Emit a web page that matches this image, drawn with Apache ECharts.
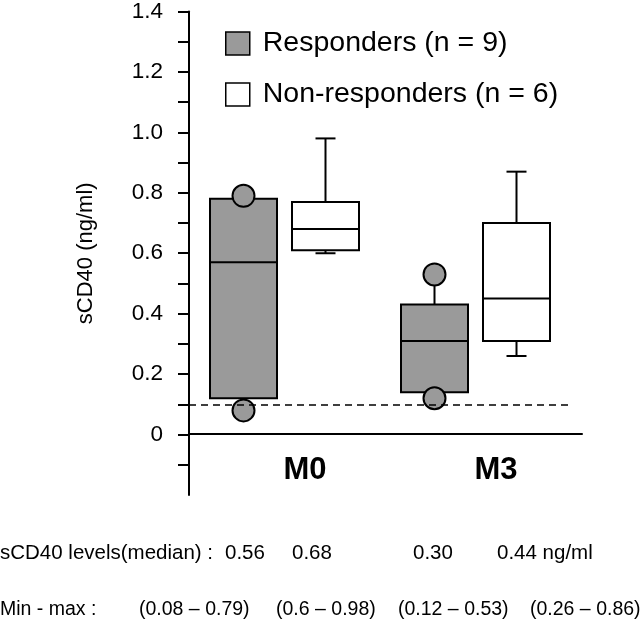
<!DOCTYPE html>
<html>
<head>
<meta charset="utf-8">
<script src="https://cdn.jsdelivr.net/npm/echarts@6/dist/echarts.min.js"></script>
<style>html,body{margin:0;padding:0;background:#fff;}#chart{width:640px;height:622px;}</style>
</head>
<body>
<div id="chart"></div>
<script>
// ---- data ----
var categories = ['M0', 'M3'];
var seriesNames = ['Responders (n = 9)', 'Non-responders (n = 6)'];
var respMin = [0.08, 0.12];
var respQ1 = [0.12, 0.14];
var respMedian = [0.57, 0.31];
var respQ3 = [0.78, 0.43];
var respMax = [0.79, 0.53];
var nonMin = [0.60, 0.26];
var nonQ1 = [0.61, 0.31];
var nonMedian = [0.68, 0.45];
var nonQ3 = [0.77, 0.70];
var nonMax = [0.98, 0.87];
var yLabelValues = [0, 0.2, 0.4, 0.6, 0.8, 1.0, 1.2, 1.4];
var yTickValues = [-0.1, 0, 0.1, 0.2, 0.3, 0.4, 0.5, 0.6, 0.7, 0.8, 0.9, 1.0, 1.1, 1.2, 1.3, 1.4];
var cutoff = 0.1;
var tableRowLabels = ['sCD40 levels(median) :', 'Min - max :'];
var medianTexts = ['0.56', '0.68', '0.30', '0.44 ng/ml'];
var minMaxTexts = ['(0.08 \u2013 0.79)', '(0.6 \u2013 0.98)', '(0.12 \u2013 0.53)', '(0.26 \u2013 0.86)'];

// ---- build ----
var FONT = '"Liberation Sans", Arial, Helvetica, sans-serif';
var GREY = '#9a9a9a';
var BOX_W = 67, CAP_HALF = 10, CIRCLE_R = 11;

function buildData(mn, q1, md, q3, mx) {
  return categories.map(function (c, i) { return [i, mn[i], q1[i], md[i], q3[i], mx[i]]; });
}

function makeRender(offsetFrac, withCircles) {
  return function (params, api) {
    var idx = api.value(0);
    var base = api.coord([idx, 0]);
    var band = api.size([1, 0])[0];
    var cx = base[0] + band * offsetFrac;
    var yMin = api.coord([idx, api.value(1)])[1];
    var yQ1 = api.coord([idx, api.value(2)])[1];
    var yMed = api.coord([idx, api.value(3)])[1];
    var yQ3 = api.coord([idx, api.value(4)])[1];
    var yMax = api.coord([idx, api.value(5)])[1];
    var fill = api.visual('color');
    var line = { stroke: '#000', lineWidth: 2 };
    var children = [
      { type: 'line', shape: { x1: cx, y1: yQ3, x2: cx, y2: yMax }, style: line },
      { type: 'line', shape: { x1: cx, y1: yQ1, x2: cx, y2: yMin }, style: line },
      { type: 'rect', shape: { x: cx - BOX_W / 2, y: yQ3, width: BOX_W, height: yQ1 - yQ3 },
        style: { fill: fill, stroke: '#000', lineWidth: 2 } },
      { type: 'line', shape: { x1: cx - BOX_W / 2, y1: yMed, x2: cx + BOX_W / 2, y2: yMed }, style: line }
    ];
    if (withCircles) {
      children.push({ type: 'circle', shape: { cx: cx, cy: yMax, r: CIRCLE_R }, style: { fill: fill, stroke: '#000', lineWidth: 2 } });
      children.push({ type: 'circle', shape: { cx: cx, cy: yMin, r: CIRCLE_R }, style: { fill: fill, stroke: '#000', lineWidth: 2 } });
    } else {
      children.push({ type: 'line', shape: { x1: cx - CAP_HALF, y1: yMax, x2: cx + CAP_HALF, y2: yMax }, style: line });
      children.push({ type: 'line', shape: { x1: cx - CAP_HALF, y1: yMin, x2: cx + CAP_HALF, y2: yMin }, style: line });
    }
    return { type: 'group', children: children };
  };
}

var graphics = [];
var row1X = [0, 225, 292, 413, 497];
var row2X = [0, 139, 276, 398, 530];
var row1 = [tableRowLabels[0]].concat(medianTexts);
var row2 = [tableRowLabels[1]].concat(minMaxTexts);
row1.forEach(function (t, i) {
  graphics.push({ type: 'text', left: row1X[i], top: 543, style: { text: t, fontSize: 20.5, fontFamily: FONT, fill: '#000' } });
});
row2.forEach(function (t, i) {
  graphics.push({ type: 'text', left: row2X[i], top: 600, style: { text: t, fontSize: 19.5, fontFamily: FONT, fill: '#000' } });
});

var chart = echarts.init(document.getElementById('chart'));
chart.setOption({
  backgroundColor: '#fff',
  animation: false,
  textStyle: { fontFamily: FONT, color: '#000' },
  legend: {
    orient: 'vertical', left: 225, top: 29, padding: 0,
    itemWidth: 24, itemHeight: 23, itemGap: 22,
    icon: 'rect',
    itemStyle: { borderColor: '#000', borderWidth: 1.5 },
    textStyle: { fontSize: 28.5, color: '#000', fontFamily: FONT, padding: [0, 0, 0, 8] },
    data: seriesNames
  },
  grid: [
    { left: 189, right: 69, top: 7, bottom: 127 },
    { left: 189, right: 58, top: 7, bottom: 127 }
  ],
  xAxis: [
    {
      type: 'category', data: categories, gridIndex: 0,
      axisLine: { show: false },
      axisTick: { show: false },
      axisLabel: { fontSize: 31, fontWeight: 'bold', color: '#000', margin: -40, padding: [0, 0, 0, 41], fontFamily: FONT },
      splitLine: { show: false }
    },
    {
      type: 'value', gridIndex: 1, min: 0, max: 1,
      axisLine: { show: true, onZero: true, lineStyle: { color: '#000', width: 2 } },
      axisTick: { show: false }, axisLabel: { show: false }, splitLine: { show: false }
    }
  ],
  yAxis: [
    {
      type: 'value', gridIndex: 0, min: -0.2, max: 1.4, interval: 0.1,
      name: 'sCD40 (ng/ml)', nameLocation: 'middle', nameGap: 92,
      nameTextStyle: { fontSize: 22, color: '#000', fontFamily: FONT },
      axisLine: { show: true, onZero: false, lineStyle: { color: '#000', width: 2 } },
      axisTick: { show: true, length: 11, lineStyle: { color: '#000', width: 2 }, customValues: yTickValues },
      axisLabel: {
        fontSize: 22.5, color: '#000', margin: 26, fontFamily: FONT, customValues: yLabelValues,
        formatter: function (v) { return Math.abs(v) < 1e-9 ? '0' : v.toFixed(1); }
      },
      splitLine: { show: false }
    },
    {
      type: 'value', gridIndex: 1, min: -0.2, max: 1.4,
      axisLine: { show: false }, axisTick: { show: false }, axisLabel: { show: false }, splitLine: { show: false }
    }
  ],
  series: [
    {
      name: seriesNames[0], type: 'custom', xAxisIndex: 0, yAxisIndex: 0,
      itemStyle: { color: GREY, borderColor: '#000' },
      encode: { x: 0, y: [1, 2, 3, 4, 5] },
      renderItem: makeRender(-41 / 191, true),
      data: buildData(respMin, respQ1, respMedian, respQ3, respMax),
      markLine: {
        silent: true, symbol: 'none', label: { show: false },
        lineStyle: { color: '#000', width: 1.5, type: [7, 5] },
        data: [{ yAxis: cutoff }]
      },
      z: 3
    },
    {
      name: seriesNames[1], type: 'custom', xAxisIndex: 0, yAxisIndex: 0,
      itemStyle: { color: '#ffffff', borderColor: '#000' },
      encode: { x: 0, y: [1, 2, 3, 4, 5] },
      renderItem: makeRender(41 / 191, false),
      data: buildData(nonMin, nonQ1, nonMedian, nonQ3, nonMax),
      z: 3
    }
  ],
  graphic: graphics
});
</script>
</body>
</html>
